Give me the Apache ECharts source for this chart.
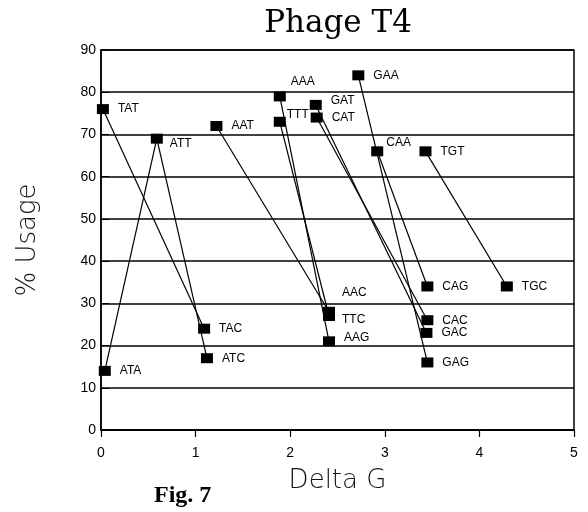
<!DOCTYPE html>
<html>
<head>
<meta charset="utf-8">
<script src="https://cdn.jsdelivr.net/npm/echarts@6/dist/echarts.min.js"></script>
<style>
  html, body { margin: 0; padding: 0; background: #fff; }
  #chart { width: 588px; height: 512px; }
</style>
</head>
<body>
<div id="chart"></div>
<script>
// codon points
const codons = ['TAT', 'TAC', 'ATA', 'ATT', 'ATC', 'AAT', 'AAC', 'AAA', 'AAG', 'TTT', 'TTC',
  'GAT', 'GAC', 'CAT', 'CAC', 'GAA', 'GAG', 'CAA', 'CAG', 'TGT', 'TGC']
const deltaG = [0.02, 1.09, 0.04, 0.59, 1.12, 1.22, 2.41, 1.89, 2.41, 1.89, 2.41,
  2.27, 3.44, 2.28, 3.45, 2.72, 3.45, 2.92, 3.45, 3.43, 4.29]
const usage = [76, 24, 14, 69, 17, 72, 28, 79, 21, 73, 27,
  77, 23, 74, 26, 84, 16, 66, 34, 66, 34]
// which codons are joined by a line
const links = [['TAT', 'TAC'], ['ATA', 'ATT'], ['ATT', 'ATC'], ['AAT', 'AAC'], ['AAA', 'AAG'],
  ['TTT', 'TTC'], ['GAT', 'GAC'], ['CAT', 'CAC'], ['GAA', 'GAG'], ['CAA', 'CAG'], ['TGT', 'TGC']]
const xTicks = [0, 1, 2, 3, 4, 5]
const yTicks = [0, 10, 20, 30, 40, 50, 60, 70, 80, 90]

// label nudges (style only)
const labelOffset = {
  AAA: [-4, -15], TTT: [-8, -7], CAA: [-6, -9], AAC: [-2, -19], TTC: [-2, 4],
  AAG: [0, -4], ATT: [-2, 5], GAT: [0, -4]
}

const pointData = codons.map((c, i) => ({
  value: [deltaG[i], usage[i]],
  name: c,
  label: { offset: labelOffset[c] || [0, 0] }
}))

const lineData = links.map(([a, b]) => {
  const i = codons.indexOf(a)
  const j = codons.indexOf(b)
  return { coords: [[deltaG[i], usage[i]], [deltaG[j], usage[j]]] }
})

const sans = 'Liberation Sans'
const chart = echarts.init(document.getElementById('chart'))
chart.setOption({
  animation: false,
  title: {
    text: 'Phage T4',
    left: 333,
    top: 3,
    textAlign: 'center',
    textStyle: { fontFamily: 'DejaVu Serif', fontWeight: 'normal', fontSize: 31, color: '#000' }
  },
  grid: { left: 101, right: 14, top: 50, bottom: 82 },
  xAxis: {
    type: 'value',
    min: xTicks[0],
    max: xTicks[xTicks.length - 1],
    interval: 1,
    name: 'Delta G',
    nameLocation: 'middle',
    nameGap: 38,
    nameTextStyle: { color: '#111', fontFamily: 'DejaVu Sans', fontWeight: 200, fontSize: 26 },
    axisLine: { show: true, lineStyle: { color: '#000', width: 1.5 } },
    axisTick: { show: true, length: 7, lineStyle: { color: '#000', width: 1.2 } },
    axisLabel: { color: '#000', fontFamily: sans, fontSize: 14, margin: 16 },
    splitLine: { show: false }
  },
  yAxis: {
    type: 'value',
    min: yTicks[0],
    max: yTicks[yTicks.length - 1],
    interval: 10,
    name: '% Usage',
    nameLocation: 'middle',
    nameGap: 60,
    nameTextStyle: { color: '#111', fontFamily: 'DejaVu Sans', fontWeight: 200, fontSize: 26 },
    axisLine: { show: true, lineStyle: { color: '#000', width: 1.5 } },
    axisTick: { show: true, inside: true, length: 8, lineStyle: { color: '#000' } },
    axisLabel: { color: '#000', fontFamily: sans, fontSize: 14, margin: 5 },
    splitLine: { show: true, lineStyle: { color: '#000', width: 1.5 } }
  },
  graphic: [
    // frame top/right
    {
      type: 'rect',
      shape: { x: 101, y: 50, width: 473, height: 380 },
      style: { fill: 'none', stroke: '#000', lineWidth: 1.5 },
      silent: true
    },
    {
      type: 'text', left: 154, top: 484,
      style: { text: 'Fig. 7', font: 'bold 24px "Liberation Serif"', fill: '#000' }
    }
  ],
  series: [
    {
      type: 'lines',
      coordinateSystem: 'cartesian2d',
      polyline: false,
      silent: true,
      lineStyle: { color: '#000', width: 1.2, opacity: 1 },
      data: lineData,
      z: 2
    },
    {
      type: 'scatter',
      symbol: 'rect',
      symbolSize: [12, 10],
      itemStyle: { color: '#000', opacity: 1 },
      label: {
        show: true,
        position: 'right',
        distance: 9,
        formatter: '{b}',
        color: '#000',
        fontFamily: sans,
        fontSize: 12
      },
      data: pointData,
      z: 3
    }
  ]
})
</script>
</body>
</html>
